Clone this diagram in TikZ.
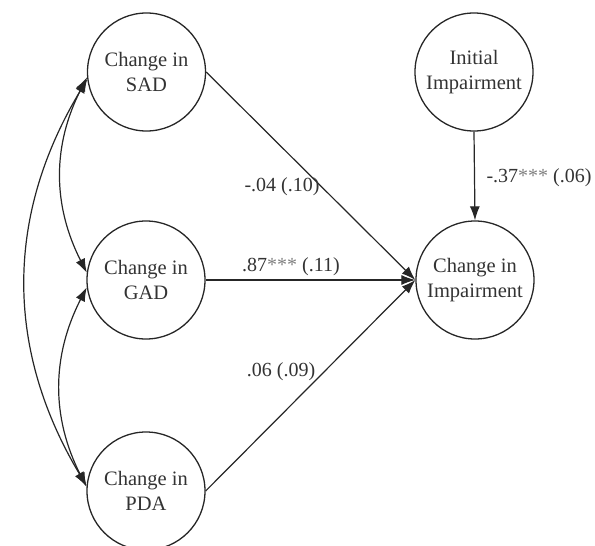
\documentclass[tikz,border=0pt]{standalone}
\usepackage{fontspec}
\setmainfont{Liberation Serif}
\usetikzlibrary{arrows.meta}
\newcommand{\sig}{\textcolor{black!50}{***}}
\begin{document}
\begin{tikzpicture}[x=1pt,y=-1pt,
  ink/.style={draw=black!85},
  latent/.style={circle,ink,line width=1.3pt,minimum size=118pt,inner sep=0pt,
    align=center,font=\fontsize{20.5}{25}\selectfont,text=black!80},
  tip/.tip={Latex[length=14pt,width=10pt]},
  path/.style={ink,line width=1.2pt,-tip},
  cov/.style={ink,line width=1.2pt,tip-tip},
  coef/.style={font=\fontsize{20}{24}\selectfont,text=black!80,inner sep=1pt}]
\useasboundingbox (0,0) rectangle (595,546);
\node[latent] (sad) at (146.5,72) {Change in\\SAD};
\node[latent] (gad) at (146,280) {Change in\\GAD};
\node[latent] (pda) at (146,491) {Change in\\PDA};
\node[latent] (init) at (474,72) {Initial\\Impairment};
\node[latent] (chg) at (475,280) {Change in\\Impairment};
% regression paths
\draw[path] (sad.east) -- (chg.west);
\draw[path] (gad.east) -- (chg.west);
\draw[path] (pda.east) -- (chg.west);
\draw[path] (init.south) -- (chg.north);
% coefficients
\node[coef] (c1) at (282,187) {-.04 (.10)};
\node[coef] (c2) at (291,267) {.87\sig{} (.11)};
\node[coef] (c3) at (281,372) {.06 (.09)};
\node[coef] (c4) at (539,178) {-.37\sig{} (.06)};
% covariances
\draw[cov] (sad.185) to[bend right=27] (gad.173);
\draw[cov] (gad.187) to[bend right=27] (pda.176);
\draw[cov] (sad.187) to[bend right=31] (pda.175);
\end{tikzpicture}
\end{document}
